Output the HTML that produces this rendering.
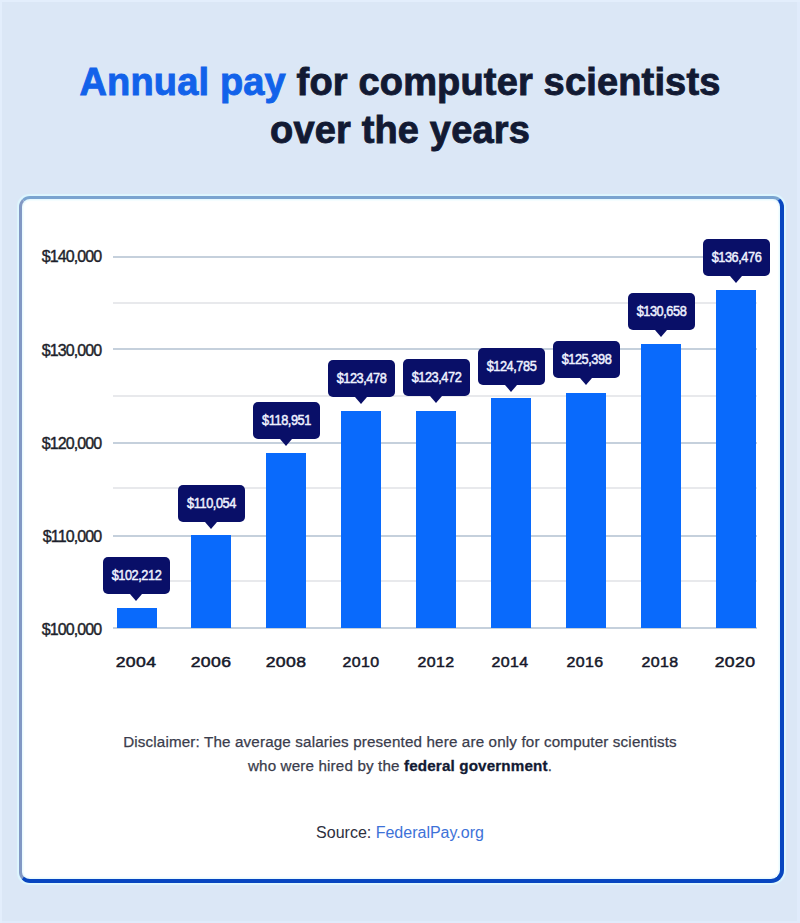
<!DOCTYPE html>
<html>
<head>
<meta charset="utf-8">
<style>
html,body{margin:0;padding:0;}
body{width:800px;height:923px;overflow:hidden;position:relative;background:#dbe7f6;box-shadow:inset 2px 2px 0 #e3eefc, inset -3px -2px 0 #e0ebfb;font-family:"Liberation Sans",sans-serif;}
.t{position:absolute;white-space:nowrap;}
#title{position:absolute;left:0;width:800px;top:58.4px;text-align:center;font-weight:bold;font-size:38px;line-height:48px;letter-spacing:0.16px;color:#121a33;-webkit-text-stroke:0.9px #121a33;}
#title .b{color:#1262ea;-webkit-text-stroke:0.9px #1262ea;}
#card{position:absolute;left:19px;top:196px;width:758px;height:680px;background:#fff;border-radius:11px 11px 13px 11px;
  border-left:3px solid #8298c4;border-top:3px solid #7aa4d0;border-right:4px solid #0846c0;border-bottom:4px solid #0846c0;box-sizing:content-box;
  box-shadow:0 0 1px 1.5px rgba(222,247,255,0.9), inset 0 0 1px 1.5px rgba(230,250,255,0.9);}
.g{position:absolute;left:113px;width:644px;height:2px;}
.gM{background:#c5d0dc;}
.gm{background:#e8e9ec;}
.bar{position:absolute;width:40px;background:#096afc;}
.tip{position:absolute;width:67px;height:37.2px;border-radius:5px;background:#090f68;}
.tip span{position:absolute;left:0;width:67px;top:0px;line-height:37px;text-align:center;color:#eef1ff;font-size:14.5px;letter-spacing:-0.5px;transform:scaleX(0.88);-webkit-text-stroke:0.5px #eef1ff;}
.tip:after{content:"";position:absolute;left:27px;top:37px;border-left:6.5px solid transparent;border-right:6.5px solid transparent;border-top:7px solid #090f68;}
.yl{position:absolute;right:698.8px;margin-top:-1px;font-size:16px;color:#1d1f2b;letter-spacing:-0.9px;line-height:16px;-webkit-text-stroke:0.4px #1d1f2b;}
.xl{position:absolute;width:80px;text-align:center;font-size:15.2px;color:#16182a;letter-spacing:0.3px;top:653px;margin-left:-0.8px;line-height:18px;transform:scaleX(1.16);-webkit-text-stroke:0.5px #16182a;}
.xl.n{transform:scaleX(1.05);}
#disc{position:absolute;left:0;width:800px;top:730px;text-align:center;font-size:15.2px;line-height:24px;letter-spacing:0.15px;color:#3a3c4c;-webkit-text-stroke:0.25px #3a3c4c;}
#disc b{color:#121a33;-webkit-text-stroke:0.3px #121a33;}
#src{position:absolute;left:0;width:800px;top:824px;text-align:center;font-size:16px;line-height:18px;color:#2e3040;}
#src span{color:#3d72d8;}
</style>
</head>
<body>
<div id="title"><span class="b">Annual pay</span> for computer scientists<br>over the years</div>
<div id="card"></div>
<!-- grid -->
<div class="g gM" style="top:256.40px"></div>
<div class="g gm" style="top:302.00px"></div>
<div class="g gM" style="top:347.90px"></div>
<div class="g gm" style="top:394.50px"></div>
<div class="g gM" style="top:441.75px"></div>
<div class="g gm" style="top:487.25px"></div>
<div class="g gM" style="top:534.60px"></div>
<div class="g gm" style="top:580.25px"></div>
<div class="g gM" style="top:627.25px"></div>
<!-- y labels -->
<div class="yl" style="top:250.00px">$140,000</div>
<div class="yl" style="top:344.00px">$130,000</div>
<div class="yl" style="top:436.60px">$120,000</div>
<div class="yl" style="top:529.75px">$110,000</div>
<div class="yl" style="top:622.75px">$100,000</div>
<!-- bars -->
<div class="bar" style="left:116.50px;top:607.74px;height:20.51px"></div>
<div class="bar" style="left:191.44px;top:535.04px;height:93.21px"></div>
<div class="bar" style="left:266.38px;top:452.55px;height:175.70px"></div>
<div class="bar" style="left:341.32px;top:410.58px;height:217.67px"></div>
<div class="bar" style="left:416.26px;top:410.64px;height:217.61px"></div>
<div class="bar" style="left:491.20px;top:398.46px;height:229.79px"></div>
<div class="bar" style="left:566.14px;top:392.78px;height:235.47px"></div>
<div class="bar" style="left:641.08px;top:344.01px;height:284.24px"></div>
<div class="bar" style="left:716.02px;top:290.07px;height:338.18px"></div>
<!-- tips -->
<div class="tip" style="left:103.00px;top:556.90px"><span>$102,212</span></div>
<div class="tip" style="left:177.94px;top:484.90px"><span>$110,054</span></div>
<div class="tip" style="left:252.88px;top:401.60px"><span>$118,951</span></div>
<div class="tip" style="left:327.82px;top:359.60px"><span>$123,478</span></div>
<div class="tip" style="left:402.76px;top:359.20px"><span>$123,472</span></div>
<div class="tip" style="left:477.70px;top:348.30px"><span>$124,785</span></div>
<div class="tip" style="left:552.64px;top:341.10px"><span>$125,398</span></div>
<div class="tip" style="left:627.58px;top:292.50px"><span>$130,658</span></div>
<div class="tip" style="left:702.52px;top:239.00px"><span>$136,476</span></div>
<!-- x labels -->
<div class="xl" style="left:96.5px">2004</div>
<div class="xl" style="left:171.5px">2006</div>
<div class="xl" style="left:246.4px">2008</div>
<div class="xl n" style="left:321.4px">2010</div>
<div class="xl n" style="left:396.3px">2012</div>
<div class="xl n" style="left:471.2px">2014</div>
<div class="xl n" style="left:546.2px">2016</div>
<div class="xl n" style="left:621.1px">2018</div>
<div class="xl" style="left:696px">2020</div>
<div id="disc">Disclaimer: The average salaries presented here are only for computer scientists<br>who were hired by the <b>federal government</b>.</div>
<div id="src">Source: <span>FederalPay.org</span></div>
</body>
</html>
